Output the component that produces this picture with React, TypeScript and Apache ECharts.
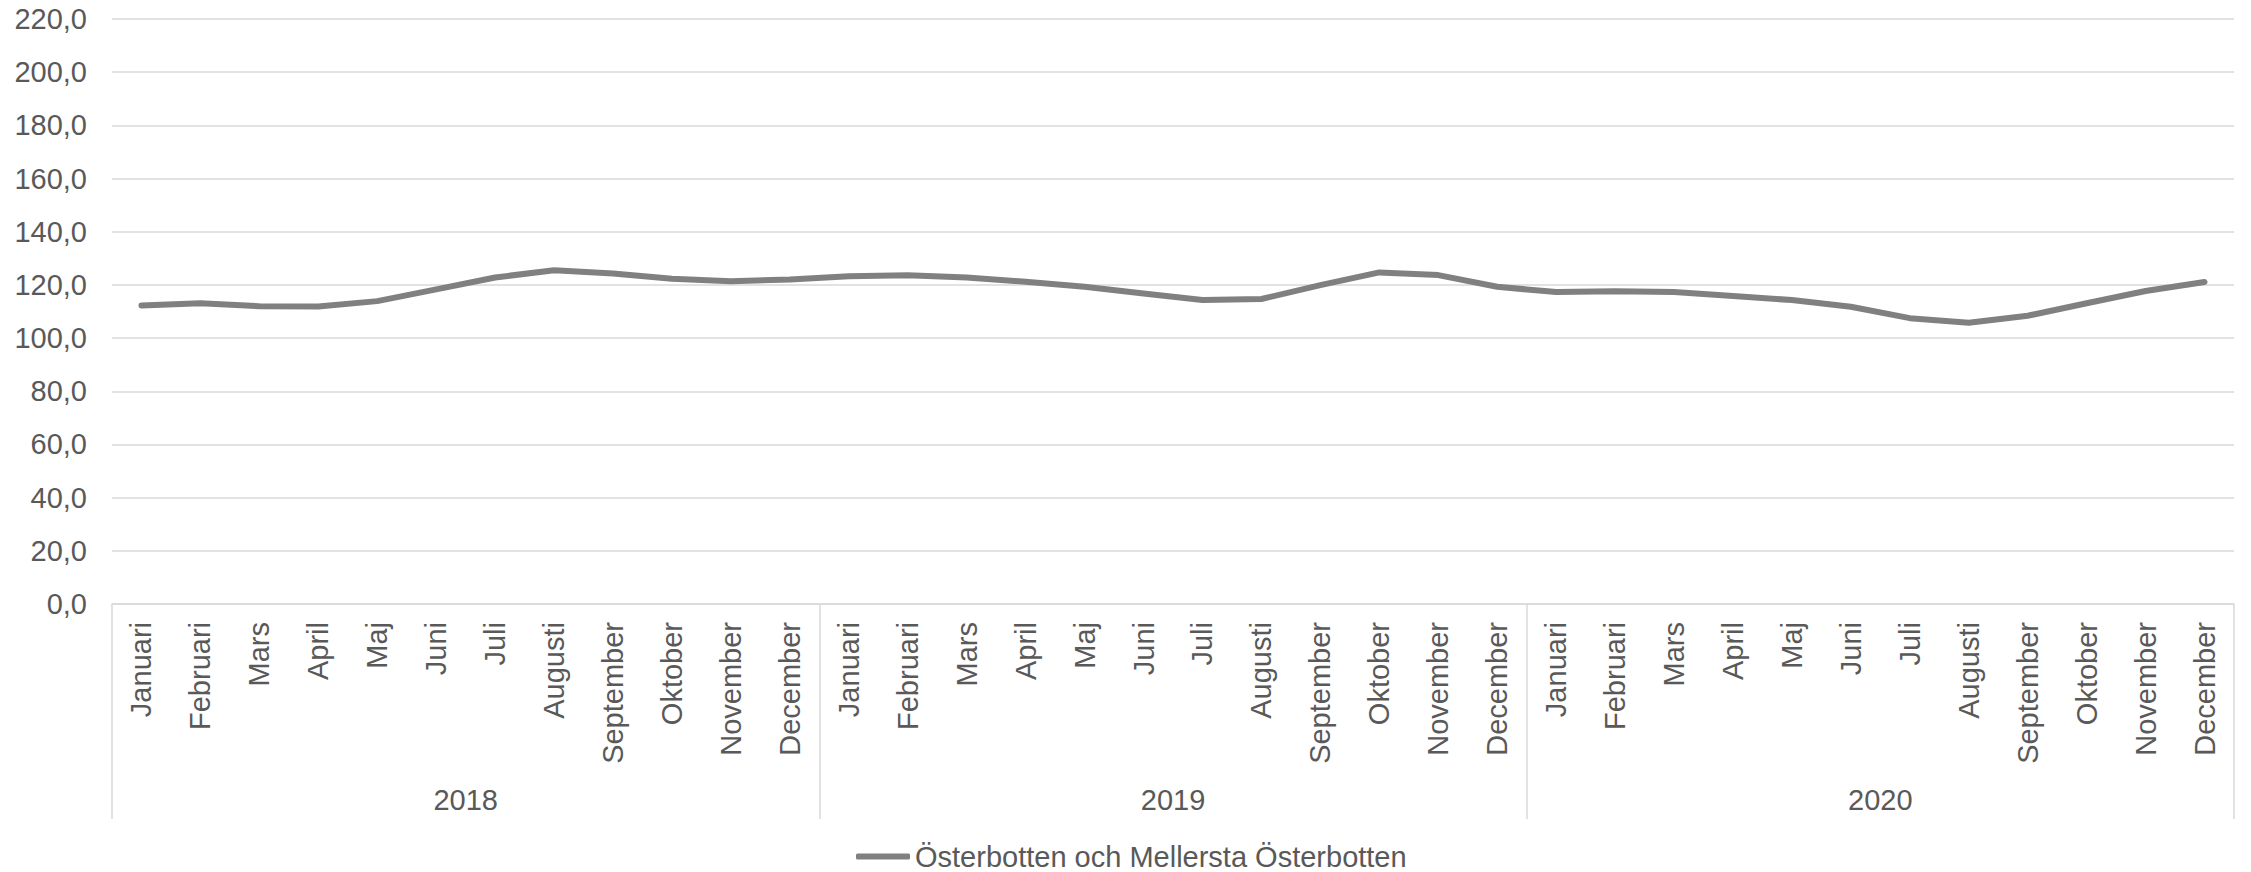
import React, { useEffect, useRef } from "react";
import * as echarts from "echarts";

const months = [
  "Januari", "Februari", "Mars", "April", "Maj", "Juni",
  "Juli", "Augusti", "September", "Oktober", "November", "December",
];
const years = ["2018", "2019", "2020"];
const categories = years.flatMap((y) => months.map((m) => `${m} ${y}`));
const seriesName = "Österbotten och Mellersta Österbotten";
const values = [
  112.3, 113.1, 112.0, 111.9, 113.9, 118.3, 122.8, 125.5, 124.3, 122.3, 121.4, 122.0,
  123.3, 123.6, 122.8, 121.2, 119.3, 116.8, 114.3, 114.7, 119.9, 124.7, 123.7, 119.3,
  117.3, 117.6, 117.3, 115.8, 114.3, 111.8, 107.5, 105.8, 108.4, 113.1, 117.7, 121.1,
];

const FONT = "'Liberation Sans', Arial, sans-serif";
const TEXT = "#595959";
const GRID = "#d9d9d9";

export default function App() {
  const ref = useRef<HTMLDivElement>(null);
  useEffect(() => {
    if (!ref.current) return;
    const chart = echarts.init(ref.current, undefined, { renderer: "svg" });
    chart.setOption({
      animation: false,
      textStyle: { fontFamily: FONT },
      grid: { left: 112, right: 17, top: 19, bottom: 268, containLabel: false },
      legend: {
        left: 856,
        top: 842,
        padding: 0,
        icon: "roundRect",
        itemWidth: 54,
        itemHeight: 6,
        itemGap: 10,
        textStyle: { color: TEXT, fontSize: 29, fontFamily: FONT },
        data: [seriesName],
      },
      xAxis: [
        {
          type: "category",
          data: categories,
          position: "bottom",
          boundaryGap: true,
          axisLine: { show: true, lineStyle: { color: GRID, width: 1.5 } },
          axisTick: { show: false },
          axisLabel: {
            rotate: 90,
            margin: 18,
            interval: 0,
            color: TEXT,
            fontSize: 29,
            fontFamily: FONT,
            formatter: (v: string) => v.split(" ")[0],
          },
          splitLine: { show: false },
        },
        {
          type: "category",
          data: years,
          position: "bottom",
          boundaryGap: true,
          axisLine: { show: false },
          axisTick: { show: true, length: 215, lineStyle: { color: GRID, width: 1.5 } },
          axisLabel: {
            margin: 181,
            color: TEXT,
            fontSize: 29,
            fontFamily: FONT,
          },
          splitLine: { show: false },
        },
      ],
      yAxis: {
        type: "value",
        min: 0,
        max: 220,
        interval: 20,
        axisLine: { show: false },
        axisTick: { show: false },
        axisLabel: {
          margin: 25,
          color: TEXT,
          fontSize: 29,
          fontFamily: FONT,
          formatter: (v: number) => v.toFixed(1).replace(".", ","),
        },
        splitLine: { lineStyle: { color: GRID, width: 1.5 } },
      },
      series: [
        {
          name: seriesName,
          type: "line",
          xAxisIndex: 0,
          data: values,
          symbol: "none",
          lineStyle: { color: "#808080", width: 6, cap: "round", join: "round" },
          itemStyle: { color: "#808080" },
        },
      ],
    });
    return () => chart.dispose();
  }, []);
  return (
    <div
      ref={ref}
      style={{ position: "absolute", left: 0, top: 0, width: 2251, height: 872 }}
    />
  );
}
